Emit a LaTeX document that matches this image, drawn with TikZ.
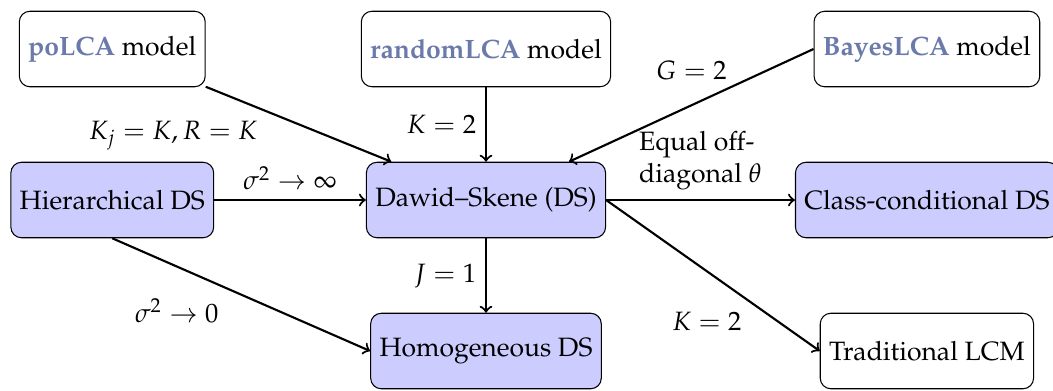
\documentclass[tikz,border=0pt]{standalone}
\usepackage[T1]{fontenc}
\usepackage{mathpazo}
\usepackage{amsmath}
\usepackage{tikz}
\definecolor{pkgblue}{RGB}{106,122,170}
\newcommand{\pkg}[1]{\textcolor{pkgblue}{\textbf{#1}}}

\begin{document}
\begin{tikzpicture}[box/.style={draw, rounded corners, minimum height=1cm},
                    dsbox/.style={box, fill=blue!20}]
  \useasboundingbox (-6.437,-2.517) rectangle (7.510,2.649);
  \node[box]   (po)    at (-4.95,2)  {\pkg{poLCA} model};
  \node[box]   (rand)  at (0,2)      {\pkg{randomLCA} model};
  \node[box]   (bayes) at (5.84,2)   {\pkg{BayesLCA} model};
  \node[dsbox] (hier)  at (-4.95,0)  {Hierarchical DS};
  \node[dsbox] (ds)    at (0,0)      {Dawid--Skene (DS)};
  \node[dsbox] (cc)    at (5.84,0)   {Class-conditional DS};
  \node[dsbox] (hom)   at (0,-2)     {Homogeneous DS};
  \node[box]   (trad)  at (5.84,-2)  {Traditional LCM};
  \path[thick, ->]
         (po) edge node[below left, pos=0.33] {$K_j = K, R = K$} (ds)
         (rand) edge node[left] {$K = 2$} (ds)
         (bayes.west) edge node[above=2mm] {$G = 2$} (ds)
         (hier) edge node[above] {$\sigma^2 \to \infty$} (ds)
         (hier.south) edge node[below left, pos=0.45] {$\sigma^2 \to 0$} (hom.west)
         (ds) edge node[left] {$J = 1$} (hom)
         (ds) edge node[above, align=left] {Equal off-\\diagonal $\theta$} (cc)
         (ds.east) edge node[below left, pos=0.68] {$K = 2$} (trad.west);
\end{tikzpicture}
\end{document}
